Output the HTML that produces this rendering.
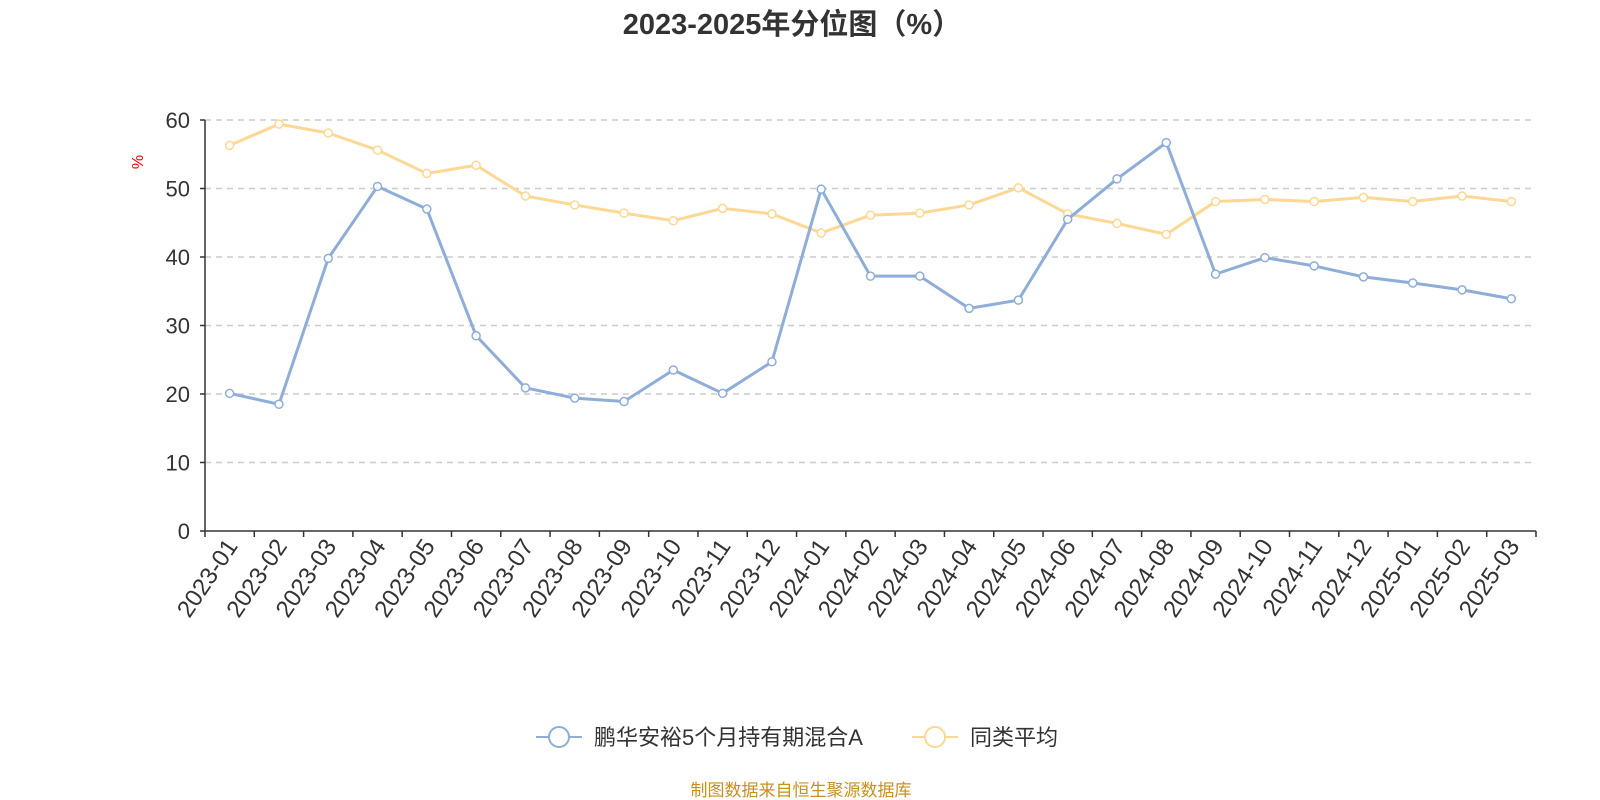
<!DOCTYPE html>
<html><head><meta charset="utf-8"><style>
html,body{margin:0;padding:0;background:#fff;width:1600px;height:800px;overflow:hidden}
svg{font-family:"Liberation Sans","Noto Sans CJK SC",sans-serif}
</style></head><body>
<svg id="chart" width="1600" height="800" viewBox="0 0 1600 800" xmlns="http://www.w3.org/2000/svg">
<text x="792" y="34" text-anchor="middle" font-size="29" font-weight="bold" fill="#333">2023-2025年分位图（%）</text>
<text x="143" y="162" font-size="16" fill="#e00" transform="rotate(-90 143 162)" text-anchor="middle">%</text>
<g id="grid"></g><g id="axes"></g><g id="series"></g>
<g>
<g>
<line x1="536" y1="737" x2="582" y2="737" stroke="#8eadd9" stroke-width="2"/>
<circle cx="559" cy="737" r="10" fill="#fff" stroke="#8eadd9" stroke-width="2"/>
<text x="594" y="745" font-size="22" fill="#333">鹏华安裕5个月持有期混合A</text></g>
<g>
<line x1="912" y1="737" x2="958" y2="737" stroke="#fdd894" stroke-width="2"/>
<circle cx="935" cy="737" r="10" fill="#fff" stroke="#fdd894" stroke-width="2"/>
<text x="970" y="745" font-size="22" fill="#333">同类平均</text></g>
</g>
<text x="801" y="796" text-anchor="middle" font-size="17" fill="#c8901e">制图数据来自恒生聚源数据库</text>
</svg>
<script>
const categories=["2023-01","2023-02","2023-03","2023-04","2023-05","2023-06","2023-07","2023-08","2023-09","2023-10","2023-11","2023-12","2024-01","2024-02","2024-03","2024-04","2024-05","2024-06","2024-07","2024-08","2024-09","2024-10","2024-11","2024-12","2025-01","2025-02","2025-03"];
const fundValues=[20.1,18.5,39.8,50.3,47,28.5,20.9,19.4,18.9,23.5,20.1,24.7,49.9,37.2,37.2,32.5,33.7,45.5,51.4,56.7,37.5,39.9,38.7,37.1,36.2,35.2,33.9];
const avgValues=[56.3,59.4,58.1,55.6,52.2,53.4,48.9,47.6,46.4,45.3,47.1,46.3,43.5,46.1,46.4,47.6,50.1,46.3,44.9,43.3,48.1,48.4,48.1,48.7,48.1,48.9,48.1];
const yTicks=[0,10,20,30,40,50,60];
const NS="http://www.w3.org/2000/svg";
const L=205,R=1536,T=120,B=531,yMax=60;
const bw=(R-L)/categories.length;
const xPos=i=>L+bw*(i+0.5);
const yPos=v=>B-(v/yMax)*(B-T);
function mk(tag,attrs,parent){const e=document.createElementNS(NS,tag);for(const k in attrs)e.setAttribute(k,attrs[k]);parent.appendChild(e);return e;}
const grid=document.getElementById('grid'),axes=document.getElementById('axes'),series=document.getElementById('series');
yTicks.forEach(t=>{const y=yPos(t);
if(t>0){const g=mk('line',{x1:L,x2:R,y1:y,y2:y,stroke:'#ccc','stroke-width':1.5,'stroke-dasharray':'6,5'},grid);

}
const tk=mk('line',{x1:L-5,x2:L,y1:y,y2:y,stroke:'#333','stroke-width':1.5},axes);


const lb=mk('text',{x:L-15,y:y+8,'text-anchor':'end','font-size':22,fill:'#333'},axes);lb.textContent=t;

});
const ya=mk('line',{x1:L,x2:L,y1:T,y2:B,stroke:'#333','stroke-width':1.5},axes);


const xa=mk('line',{x1:L,x2:R,y1:B,y2:B,stroke:'#333','stroke-width':1.5},axes);


for(let i=0;i<=categories.length;i++){const x=L+bw*i;const t=mk('line',{x1:x,x2:x,y1:B,y2:B+6,stroke:'#333','stroke-width':1.5},axes);

}
categories.forEach((c,i)=>{const x=xPos(i)+9,y=B+15;
const lb=mk('text',{x:x,y:y,'text-anchor':'end','font-size':24,fill:'#333',transform:`rotate(-56 ${x} ${y})`},axes);lb.textContent=c;

});
function drawSeries(vals,color,name){
const pts=vals.map((v,i)=>xPos(i)+','+yPos(v)).join(' ');
const pl=mk('polyline',{points:pts,fill:'none',stroke:color,'stroke-width':3,'stroke-linejoin':'round'},series);


vals.forEach((v,i)=>{const c=mk('circle',{cx:xPos(i),cy:yPos(v),r:4,fill:'#fff',stroke:color,'stroke-width':1.5},series);

});}
drawSeries(avgValues,'#fdd894','average');
drawSeries(fundValues,'#8eadd9','fund');
</script>
</body></html>
